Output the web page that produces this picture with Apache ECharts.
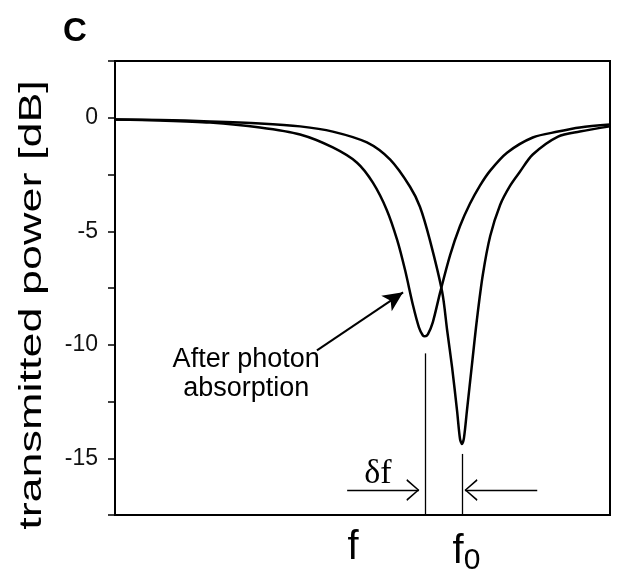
<!DOCTYPE html>
<html>
<head>
<meta charset="utf-8">
<script src="https://cdn.jsdelivr.net/npm/echarts@6/dist/echarts.min.js"></script>
<style>
  html, body { margin: 0; padding: 0; background: #fff; }
  #main { width: 617px; height: 571px; }
</style>
</head>
<body>
<div id="main"></div>
<script>
  // frequency axis is arbitrary units 0..100 (no numeric ticks in the figure)
  const freqShifted = [0, 9.1, 19.2, 29.3, 37.4, 44.0, 48.9, 52.1, 54.9, 57.0, 58.6, 60.2, 61.4, 62.2, 62.6, 63.2, 64.2, 65.7, 67.7, 69.7, 71.7, 73.7, 75.8, 79.2, 84.4, 89.5, 93.9, 100];
  const powerShifted = [-0.08, -0.12, -0.21, -0.43, -0.74, -1.31, -1.98, -2.86, -4.06, -5.38, -6.71, -8.26, -9.23, -9.59, -9.63, -9.54, -9.01, -7.68, -6.05, -4.77, -3.79, -3.00, -2.33, -1.54, -0.87, -0.61, -0.43, -0.30];

  const freqOriginal = [0, 9.1, 19.2, 29.3, 37.4, 44.0, 50.9, 55.6, 59.6, 61.6, 63.6, 66.1, 67.1, 68.1, 69.1, 69.7, 70.1, 70.5, 71.1, 72.1, 73.1, 74.3, 75.8, 77.8, 79.8, 81.8, 84.4, 89.5, 93.9, 100];
  const powerOriginal = [-0.08, -0.10, -0.16, -0.25, -0.38, -0.61, -1.09, -1.85, -3.04, -3.92, -5.38, -7.68, -9.36, -11.0, -12.9, -14.15, -14.37, -14.1, -12.9, -10.9, -8.92, -6.93, -5.21, -3.84, -3.00, -2.38, -1.62, -0.83, -0.61, -0.38];

  // y axis ticks
  const yTicks = [-17.5, -15, -12.5, -10, -7.5, -5, -2.5, 0, 2.5];
  // x tick labels
  const xLabelValues = [48.1, 71.0];
  const xLabelNames = ['f', 'f0'];

  // resonance markers: [x, top of line]
  const markerF = [62.6, -10.38];
  const markerF0 = [70.1, -14.81];
  // δf arrows: [fromX, toX, y]
  const arrowLeft = [46.9, 61.4, -16.4];
  const arrowRight = [85.3, 70.7, -16.4];
  // annotation arrow [x0, y0, x1, y1]
  const noteArrow = [40.8, -10.25, 58.2, -7.69];
  const notePos = [26.5, -11.27];
  const deltaPos = [53.1, -15.7];

  const toPairs = (xs, ys) => xs.map((x, i) => [x, ys[i]]);
  const chevron = 'path://M0,20 L10,0 L20,20 L18.4,21 L10,3.4 L1.6,21 Z';
  const sans = 'Liberation Sans, Arial, sans-serif';

  let myChart = echarts.init(document.getElementById('main'));

  let option = {
    animation: false,
    backgroundColor: '#fff',
    textStyle: { fontFamily: sans },
    title: {
      text: 'C',
      left: 58,
      top: 10,
      textStyle: { fontSize: 33, fontWeight: 'bold', color: '#000' }
    },
    graphic: [{
      type: 'text',
      x: 32,
      y: 305,
      rotation: Math.PI / 2,
      scaleX: 1.45,
      style: {
        text: 'transmitted power [dB]',
        fontSize: 31,
        fontFamily: sans,
        fill: '#000',
        textAlign: 'center',
        textVerticalAlign: 'middle'
      }
    }],
    grid: {
      left: 115, top: 61, right: 7, bottom: 56,
      outerBoundsMode: 'none',
      containLabel: false,
      show: true,
      borderColor: '#000',
      borderWidth: 2
    },
    xAxis: {
      type: 'value',
      min: 0,
      max: 100,
      splitLine: { show: false },
      axisLine: { show: true, onZero: false, lineStyle: { color: '#000', width: 2 } },
      axisTick: { show: false },
      axisLabel: {
        customValues: xLabelValues,
        margin: 13,
        color: '#000',
        formatter: function (v) {
          let i = xLabelValues.indexOf(v);
          if (i < 0) return '';
          let name = xLabelNames[i];
          if (name === 'f0') return '{a|f}{b|0}';
          return '{a|' + name + '}';
        },
        rich: {
          a: { fontSize: 40, color: '#000', fontFamily: sans },
          b: { fontSize: 30, color: '#000', padding: [18, 0, 0, 0], fontFamily: sans }
        }
      }
    },
    yAxis: {
      type: 'value',
      min: yTicks[0],
      max: yTicks[yTicks.length - 1],
      interval: 2.5,
      splitLine: { show: false },
      axisLine: { show: true, onZero: false, lineStyle: { color: '#000', width: 2 } },
      axisTick: { show: true, length: 7, lineStyle: { color: '#000', width: 1.5 } },
      axisLabel: {
        margin: 17,
        formatter: function (v) {
          return (v % 5 === 0 && v < 2.5) ? '{n|' + v + '}' : '';
        },
        rich: {
          n: { fontSize: 23, color: '#111', fontFamily: sans }
        }
      }
    },
    series: [
      {
        name: 'before',
        type: 'line',
        data: toPairs(freqOriginal, powerOriginal),
        showSymbol: false,
        smooth: 0.3,
        lineStyle: { color: '#000', width: 2.5 }
      },
      {
        name: 'after photon absorption',
        type: 'line',
        data: toPairs(freqShifted, powerShifted),
        showSymbol: false,
        smooth: 0.3,
        lineStyle: { color: '#000', width: 2.5 }
      },
      {
        name: 'notes',
        type: 'line',
        data: [],
        silent: true,
        markLine: {
          silent: true,
          animation: false,
          label: { show: false },
          lineStyle: { color: '#000', type: 'solid', width: 1.3 },
          data: [
            [{ coord: [markerF[0], markerF[1]], symbol: 'none' }, { coord: [markerF[0], yTicks[0]], symbol: 'none' }],
            [{ coord: [markerF0[0], markerF0[1]], symbol: 'none' }, { coord: [markerF0[0], yTicks[0]], symbol: 'none' }],
            [{ coord: [arrowLeft[0], arrowLeft[2]], symbol: 'none' },
             { coord: [arrowLeft[1], arrowLeft[2]], symbol: chevron, symbolSize: [22, 13], symbolOffset: [0, 6] }],
            [{ coord: [arrowRight[0], arrowRight[2]], symbol: 'none' },
             { coord: [arrowRight[1], arrowRight[2]], symbol: chevron, symbolSize: [22, 13], symbolOffset: [0, 6] }],
            [{ coord: [noteArrow[0], noteArrow[1]], symbol: 'none', lineStyle: { width: 2 } },
             { coord: [noteArrow[2], noteArrow[3]], symbol: 'arrow', symbolSize: [14, 20], lineStyle: { width: 2 } }]
          ]
        },
        markPoint: {
          silent: true,
          symbol: 'circle',
          symbolSize: 1,
          itemStyle: { color: 'rgba(0,0,0,0)' },
          data: [
            {
              coord: notePos,
              label: {
                show: true, position: 'inside', formatter: 'After photon\nabsorption',
                fontSize: 27, lineHeight: 29, color: '#000', align: 'center'
              }
            },
            {
              coord: deltaPos,
              label: {
                show: true, position: 'inside', formatter: 'δf',
                fontSize: 34, color: '#000', fontFamily: 'Liberation Serif, Times New Roman, serif'
              }
            }
          ]
        }
      }
    ]
  };
  myChart.setOption(option);
</script>
</body>
</html>
